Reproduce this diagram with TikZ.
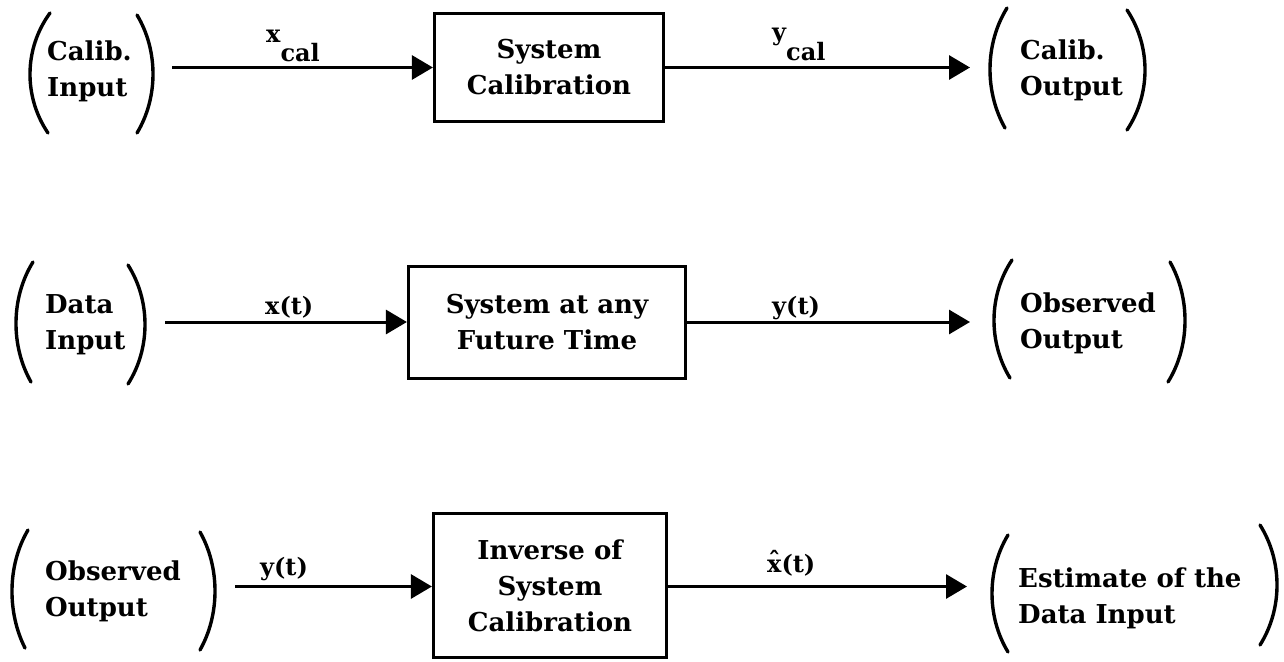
\documentclass[tikz,border=0pt]{standalone}
\usepackage{fontspec}
\setmainfont{DejaVu Serif}
\usetikzlibrary{arrows.meta,calc}
\newcommand\parcurve[5]{%
  \pgfmathsetmacro\parc{(8*#5-#1-#3)/6}%
  \draw[parenline] (#1,#2) .. controls (\parc,{#2+0.3*(#4-#2)}) and (\parc,{#2+0.7*(#4-#2)}) .. (#3,#4);}
\tikzset{
  blk/.style={draw, line width=3.2pt, align=center, inner sep=0pt,
    font=\bfseries\fontsize{26}{36}\selectfont},
  txt/.style={align=left, inner sep=0pt, anchor=west,
    font=\bfseries\fontsize{26}{36}\selectfont},
  sig/.style={inner sep=0pt, anchor=base west,
    font=\bfseries\fontsize{24}{28}\selectfont},
  arr/.style={line width=3pt, -{Triangle[length=21pt,width=24pt]}},
  parenline/.style={line width=3.4pt, line cap=round}
}
\begin{document}
\begin{tikzpicture}[x=1pt,y=-1pt]
\useasboundingbox (0,0) rectangle (1284,661);
\fill[white] (0,0) rectangle (1284,661);

% ---- row 1
\node[blk, minimum width=229pt, minimum height=108pt] (b1) at (549,67.5) {System\\Calibration};
\node[txt] (ci) at (47,71) {Calib.\\Input};
\node[txt] (co) at (1020,70) {Calib.\\Output};
\parcurve{50}{13}{48}{133}{30}
\parcurve{137}{15}{137}{133}{153}
\parcurve{1007}{8}{1005}{128}{990}
\parcurve{1127}{10}{1127}{130}{1145}
\coordinate (s1) at (172,67.5);
\coordinate (e1) at (970,67.5);
\draw[arr] (s1) -- (s1 -| b1.west);
\draw[arr] (b1.east |- e1) -- (e1);
\node[sig] (xcal) at (266,42) {x\raisebox{-20pt}{cal}};
\node[sig] (ycal) at (772,41) {y\raisebox{-20pt}{cal}};

% ---- row 2
\node[blk, minimum width=277pt, minimum height=112pt] (b2) at (547,322.5) {System at any\\Future Time};
\node[txt] (di) at (45,325) {Data\\Input};
\node[txt] (oo) at (1020,323) {Observed\\Output};
\parcurve{33}{262}{31}{382}{16}
\parcurve{128}{265}{128}{384}{145}
\parcurve{1012}{260}{1010}{378}{994}
\parcurve{1170}{262}{1168}{382}{1185}
\coordinate (s2) at (165,322);
\coordinate (e2) at (970,322);
\draw[arr] (s2) -- (s2 -| b2.west);
\draw[arr] (b2.east |- e2) -- (e2);
\node[sig] (xt) at (265,314) {x(t)};
\node[sig] (yt) at (772,314) {y(t)};

% ---- row 3
\node[blk, minimum width=233pt, minimum height=144pt] (b3) at (550,585.5) {Inverse of\\System\\Calibration};
\node[txt] (ob) at (45,591) {Observed\\Output};
\node[txt] (es) at (1018,598) {Estimate of the\\Data Input};
\parcurve{28}{530}{25}{648}{12}
\parcurve{200}{532}{200}{650}{215}
\parcurve{1008}{535}{1008}{652}{992}
\parcurve{1260}{525}{1260}{645}{1277}
\coordinate (s3) at (235,586.5);
\coordinate (e3) at (967,586.5);
\draw[arr] (s3) -- (s3 -| b3.west);
\draw[arr] (b3.east |- e3) -- (e3);
\node[sig] (yt3) at (260,575) {y(t)};
\node[sig] (xh) at (767,572) {\ooalign{x\cr\hidewidth\raisebox{3pt}{\char"02C6}\hidewidth\cr}(t)};
\end{tikzpicture}
\end{document}
